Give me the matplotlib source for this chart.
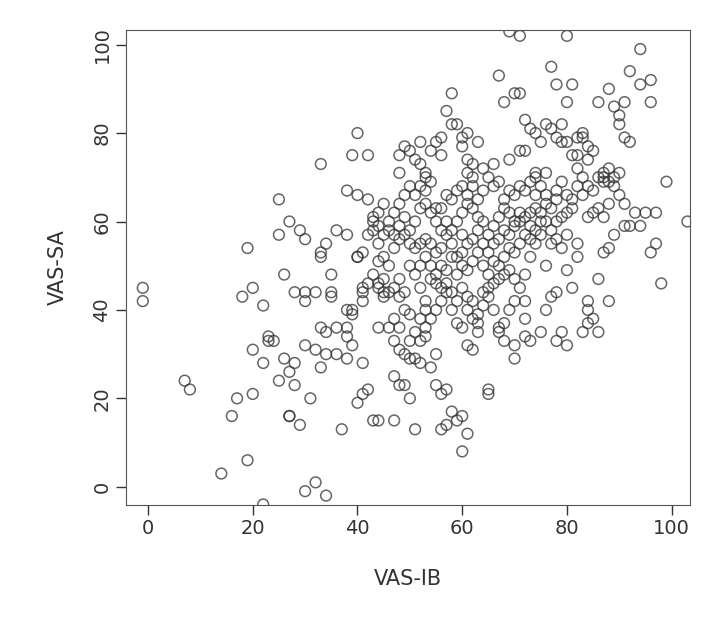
import matplotlib.pyplot as plt

# VAS-IB (x) and VAS-SA (y)
pts = [
    (-1, 45), (-1, 42), (7, 24), (8, 22), (14, 3), (16, 16), (17, 20), (18, 43), (19, 54), (19, 6),
    (20, 45), (20, 31), (20, 21), (22, -4), (22, 28), (22, 41), (23, 34), (23, 33), (24, 33), (25, 57),
    (25, 65), (25, 24), (26, 29), (26, 48), (27, 60), (27, 26), (27, 16), (27, 16), (28, 44), (28, 23),
    (28, 28), (29, 58), (29, 14), (30, 56), (30, 44), (30, 32), (30, 42), (30, -1), (31, 20), (32, 31),
    (32, 44), (32, 1), (33, 52), (33, 73), (33, 36), (33, 27), (33, 53), (34, -2), (34, 55), (34, 35),
    (34, 30), (35, 48), (35, 43), (35, 44), (36, 58), (36, 36), (36, 30), (37, 13), (38, 40), (38, 67),
    (38, 57), (38, 36), (38, 34), (38, 29), (39, 40), (39, 75), (39, 32), (39, 39), (40, 66), (40, 80),
    (40, 52), (40, 52), (40, 19), (41, 45), (41, 21), (41, 28), (41, 42), (42, 65), (42, 75), (42, 22),
    (43, 58), (43, 61), (43, 15), (44, 59), (44, 45), (44, 36), (44, 46),
    (48, 75), (48, 71), (49, 77), (50, 76), (51, 74), (52, 73), (52, 78), (53, 70), (53, 67), (54, 76),
    (55, 78), (56, 75), (56, 79), (57, 85), (58, 89), (58, 82), (59, 82), (60, 79), (60, 77), (61, 80),
    (61, 74), (61, 71), (62, 73), (62, 70), (63, 78), (64, 72), (66, 73), (67, 93), (68, 87), (69, 103),
    (69, 74), (70, 89), (71, 102), (71, 89), (72, 83), (72, 76), (73, 81), (74, 80), (75, 78), (76, 82),
    (77, 81), (77, 95), (78, 91), (78, 79), (79, 82), (80, 102), (80, 87), (80, 78), (81, 75), (81, 91),
    (82, 75), (82, 72), (83, 80), (83, 79), (84, 77), (86, 87), (87, 71), (87, 70), (88, 90), (89, 86),
    (90, 84), (90, 82), (91, 87), (91, 79), (92, 94), (92, 78), (94, 99), (94, 91), (96, 92), (96, 87),
    (71, 76), (74, 70), (76, 71), (79, 78), (82, 79), (84, 74), (85, 76), (88, 72), (89, 70), (90, 71),
    (93, 62), (95, 62), (97, 62), (97, 55), (98, 46), (99, 69), (96, 53), (103, 60), (94, 59), (92, 59),
    (88, 64), (86, 63), (84, 68), (85, 67), (83, 66), (87, 61),
    (80, 32), (78, 33), (79, 35), (83, 35), (84, 37), (84, 40), (84, 42), (85, 38), (86, 35), (88, 42),
    (86, 47), (87, 53), (88, 54), (89, 57), (91, 59), (75, 35), (73, 33), (72, 38), (76, 40), (77, 43),
    (78, 44), (76, 50), (80, 49), (81, 45), (82, 52), (82, 55), (80, 57), (72, 42), (72, 34), (70, 29),
    (70, 32), (68, 33), (67, 35), (65, 21), (65, 22), (60, 8), (61, 12), (59, 15), (60, 16), (58, 17),
    (57, 14), (56, 13), (51, 13), (55, 23), (56, 21), (57, 22), (54, 27), (55, 30), (53, 34), (53, 36),
    (49, 23), (48, 23), (47, 25), (47, 15), (44, 15), (50, 20), (51, 29), (52, 28), (50, 29), (50, 33),
    (49, 30), (48, 31), (47, 33), (46, 36), (48, 36), (47, 38), (45, 43), (45, 44), (48, 43), (49, 44),
    (52, 38), (53, 40), (52, 45), (54, 47), (55, 48), (56, 45), (57, 44), (58, 40), (59, 37), (60, 36),
    (61, 32), (62, 31), (63, 37), (63, 35), (61, 40), (62, 42), (64, 44), (65, 43), (66, 40), (67, 36),
    (68, 37), (69, 40), (70, 42), (71, 45), (70, 47), (72, 48), (73, 52), (74, 55), (75, 57), (77, 58),
    (78, 60), (79, 61), (80, 62), (81, 63), (78, 65), (76, 64), (74, 66), (73, 62), (71, 60), (70, 59),
    (69, 62), (68, 63), (67, 61), (66, 59), (65, 57), (64, 60), (63, 61), (62, 63), (61, 64), (60, 62),
    (59, 60), (58, 58), (57, 57), (56, 54), (55, 53), (54, 55), (53, 56), (52, 55), (51, 54), (50, 55),
    (49, 57), (48, 56), (47, 54), (46, 50), (45, 52), (44, 51), (43, 48), (42, 46), (41, 44), (44, 55),
    (45, 57), (46, 60), (47, 62), (48, 64), (49, 66), (50, 68), (51, 66), (52, 68), (53, 64), (54, 62),
    (55, 60), (56, 63), (57, 66), (58, 65), (59, 67), (60, 68), (61, 66), (62, 68), (63, 65), (64, 67),
    (65, 70), (66, 68), (67, 69), (68, 65), (69, 67), (70, 66), (71, 68), (72, 67), (73, 69), (74, 71),
    (75, 68), (76, 66), (77, 63), (78, 67), (79, 69), (80, 66), (81, 65), (82, 68), (83, 70), (84, 61),
    (85, 62), (86, 70), (87, 69), (88, 69), (89, 68), (90, 66), (91, 64),
    (50, 50), (51, 48), (52, 50), (53, 52), (54, 50), (55, 46), (56, 50), (57, 49), (58, 52), (59, 48),
    (60, 50), (61, 49), (62, 51), (63, 53), (64, 50), (65, 48), (66, 51), (67, 50), (68, 52), (69, 54),
    (70, 53), (71, 55), (72, 57), (73, 56), (74, 58), (75, 60), (62, 56), (63, 58), (60, 57), (58, 55),
    (57, 60), (56, 58), (55, 63), (54, 69), (53, 71), (52, 63), (51, 60), (50, 58), (49, 61), (48, 59),
    (47, 57), (46, 58), (45, 64), (44, 62), (43, 60), (42, 57), (41, 53), (60, 45), (61, 43), (59, 42),
    (58, 44), (57, 46), (56, 42), (55, 40), (54, 38), (53, 42), (52, 33), (51, 35), (50, 39), (49, 40),
    (48, 47), (47, 45), (46, 44), (45, 47), (64, 55), (65, 53), (66, 55), (67, 56), (68, 58), (69, 57),
    (70, 60), (71, 62), (72, 61), (73, 59), (74, 63), (75, 62), (76, 60), (77, 55), (78, 56), (79, 54),
    (62, 38), (63, 39), (64, 41), (65, 45), (66, 46), (67, 47), (68, 48), (69, 49), (60, 53), (61, 55),
    (59, 52),
]
vas_ib = [p[0] for p in pts]
vas_sa = [p[1] for p in pts]

fig = plt.figure(figsize=(7.16, 6.44), dpi=100)
ax = fig.add_axes([0.176, 0.216, 0.787, 0.738])
ax.scatter(vas_ib, vas_sa, s=60, facecolors="none", edgecolors="#333333",
           linewidths=1.1, alpha=0.75)
ax.set_xlim(-4.2, 103.4)
ax.set_ylim(-4.1, 103.4)
ax.set_xticks([0, 20, 40, 60, 80, 100])
ax.set_yticks([0, 20, 40, 60, 80, 100])
ax.tick_params(labelsize=14, length=7, width=1, colors="#333333")
for lbl in ax.get_yticklabels():
    lbl.set_rotation(90)
    lbl.set_va("center")
for sp in ax.spines.values():
    sp.set_color("#555555")
ax.set_xlabel("VAS-IB", fontsize=15, labelpad=22, color="#333333")
ax.set_ylabel("VAS-SA", fontsize=15, labelpad=18, color="#333333")

plt.savefig("out.png", dpi=100)
